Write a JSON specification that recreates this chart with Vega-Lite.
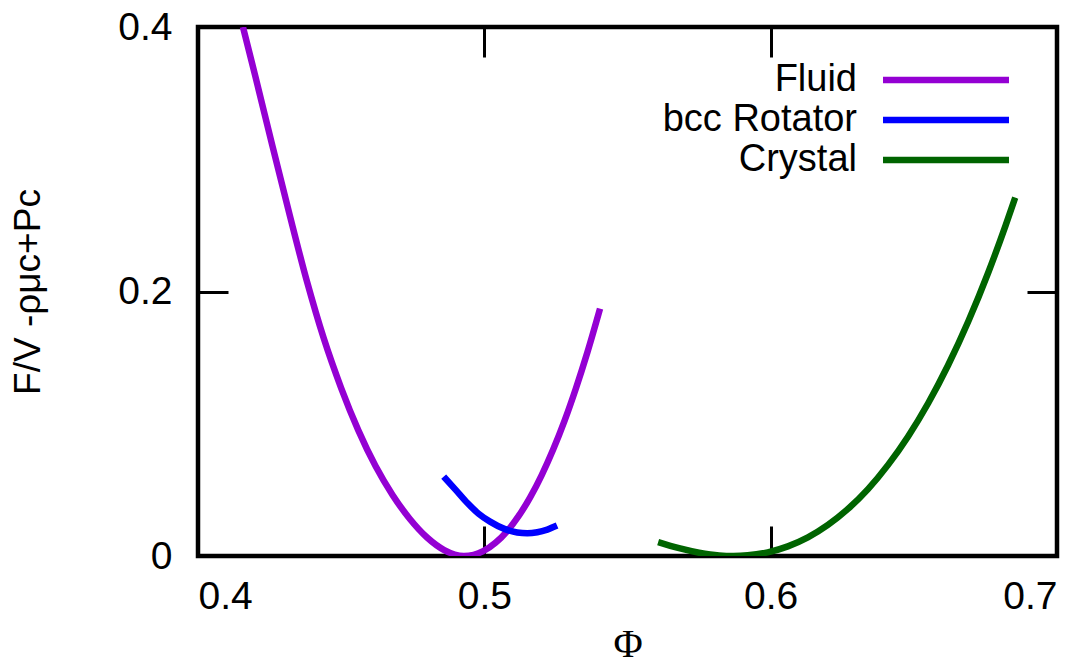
{
  "$schema": "https://vega.github.io/schema/vega-lite/v6.json",
  "width": 859,
  "height": 529,
  "autosize": {"type": "none"},
  "padding": {"left": 198, "top": 27, "right": 34, "bottom": 112},
  "background": "white",
  "config": {
    "view": {"stroke": "black", "strokeWidth": 4.5},
    "font": "Liberation Sans",
    "axis": {
      "domain": false,
      "grid": false,
      "tickSize": -30,
      "tickWidth": 3,
      "tickColor": "black",
      "labelFont": "Liberation Sans",
      "labelFontSize": 39,
      "labelColor": "black",
      "titleFont": "Liberation Sans",
      "titleFontSize": 37,
      "titleFontWeight": "normal",
      "titleColor": "black"
    }
  },
  "data": {
    "values": [
      {"phase": "Fluid", "phi": 0.4157, "f": 0.400},
      {"phase": "Fluid", "phi": 0.4200, "f": 0.363},
      {"phase": "Fluid", "phi": 0.4260, "f": 0.310},
      {"phase": "Fluid", "phi": 0.4320, "f": 0.258},
      {"phase": "Fluid", "phi": 0.4380, "f": 0.208},
      {"phase": "Fluid", "phi": 0.4440, "f": 0.164},
      {"phase": "Fluid", "phi": 0.4500, "f": 0.127},
      {"phase": "Fluid", "phi": 0.4560, "f": 0.095},
      {"phase": "Fluid", "phi": 0.4620, "f": 0.068},
      {"phase": "Fluid", "phi": 0.4680, "f": 0.046},
      {"phase": "Fluid", "phi": 0.4740, "f": 0.028},
      {"phase": "Fluid", "phi": 0.4800, "f": 0.0140},
      {"phase": "Fluid", "phi": 0.4860, "f": 0.0045},
      {"phase": "Fluid", "phi": 0.4929, "f": 0.000},
      {"phase": "Fluid", "phi": 0.4996, "f": 0.0037},
      {"phase": "Fluid", "phi": 0.5040, "f": 0.0102},
      {"phase": "Fluid", "phi": 0.5080, "f": 0.0189},
      {"phase": "Fluid", "phi": 0.5120, "f": 0.0303},
      {"phase": "Fluid", "phi": 0.5160, "f": 0.0443},
      {"phase": "Fluid", "phi": 0.5200, "f": 0.0610},
      {"phase": "Fluid", "phi": 0.5240, "f": 0.0803},
      {"phase": "Fluid", "phi": 0.5280, "f": 0.1022},
      {"phase": "Fluid", "phi": 0.5320, "f": 0.1269},
      {"phase": "Fluid", "phi": 0.5360, "f": 0.1541},
      {"phase": "Fluid", "phi": 0.5404, "f": 0.1870},
      {"phase": "bcc Rotator", "phi": 0.4858, "f": 0.060},
      {"phase": "bcc Rotator", "phi": 0.4900, "f": 0.050},
      {"phase": "bcc Rotator", "phi": 0.4941, "f": 0.040},
      {"phase": "bcc Rotator", "phi": 0.4980, "f": 0.032},
      {"phase": "bcc Rotator", "phi": 0.5020, "f": 0.026},
      {"phase": "bcc Rotator", "phi": 0.5070, "f": 0.0205},
      {"phase": "bcc Rotator", "phi": 0.5115, "f": 0.0178},
      {"phase": "bcc Rotator", "phi": 0.5150, "f": 0.0172},
      {"phase": "bcc Rotator", "phi": 0.5185, "f": 0.0180},
      {"phase": "bcc Rotator", "phi": 0.5220, "f": 0.0200},
      {"phase": "bcc Rotator", "phi": 0.5254, "f": 0.0230},
      {"phase": "Crystal", "phi": 0.5607, "f": 0.0105},
      {"phase": "Crystal", "phi": 0.5680, "f": 0.0059},
      {"phase": "Crystal", "phi": 0.5750, "f": 0.0025},
      {"phase": "Crystal", "phi": 0.5820, "f": 0.0004},
      {"phase": "Crystal", "phi": 0.5870, "f": 0.0000},
      {"phase": "Crystal", "phi": 0.5920, "f": 0.0005},
      {"phase": "Crystal", "phi": 0.5990, "f": 0.0028},
      {"phase": "Crystal", "phi": 0.6060, "f": 0.0073},
      {"phase": "Crystal", "phi": 0.6130, "f": 0.0141},
      {"phase": "Crystal", "phi": 0.6200, "f": 0.0235},
      {"phase": "Crystal", "phi": 0.6270, "f": 0.0356},
      {"phase": "Crystal", "phi": 0.6340, "f": 0.0506},
      {"phase": "Crystal", "phi": 0.6410, "f": 0.0689},
      {"phase": "Crystal", "phi": 0.6480, "f": 0.0904},
      {"phase": "Crystal", "phi": 0.6550, "f": 0.1155},
      {"phase": "Crystal", "phi": 0.6620, "f": 0.1444},
      {"phase": "Crystal", "phi": 0.6690, "f": 0.1773},
      {"phase": "Crystal", "phi": 0.6760, "f": 0.2144},
      {"phase": "Crystal", "phi": 0.6820, "f": 0.2496},
      {"phase": "Crystal", "phi": 0.6854, "f": 0.2710}
    ]
  },
  "layer": [
    {
      "mark": {"type": "line", "strokeWidth": 6.5, "interpolate": "monotone", "clip": true},
      "encoding": {
        "x": {
          "field": "phi", "type": "quantitative",
          "scale": {"domain": [0.4, 0.7], "nice": false, "zero": false},
          "axis": {"orient": "bottom", "values": [0.4, 0.5, 0.6, 0.7], "format": "~g", "labelPadding": 51, "title": "Φ", "titleFont": "Liberation Serif", "titleFontSize": 40, "titlePadding": 8}
        },
        "y": {
          "field": "f", "type": "quantitative",
          "scale": {"domain": [0, 0.4], "nice": false},
          "axis": {"orient": "left", "values": [0, 0.2, 0.4], "format": "~g", "labelPadding": 56, "title": "F/V -ρμc+Pc", "titlePadding": 70}
        },
        "color": {
          "field": "phase", "type": "nominal",
          "scale": {"domain": ["Fluid", "bcc Rotator", "Crystal"], "range": ["#9400D3", "#0000FF", "#006400"]},
          "legend": {
            "title": null,
            "orient": "none",
            "legendX": 729,
            "legendY": 34,
            "padding": 0,
            "symbolType": "M-4,0H4",
            "symbolSize": 992,
            "symbolStrokeWidth": 6.5,
            "labelAlign": "right",
            "labelOffset": -108,
            "labelFontSize": 38,
            "labelFont": "Liberation Sans",
            "labelColor": "black",
            "rowPadding": 2,
            "labelLimit": 400
          }
        }
      }
    },
    {
      "mark": {"type": "line", "strokeOpacity": 0, "strokeWidth": 0},
      "encoding": {
        "x": {
          "field": "phi", "type": "quantitative",
          "axis": {"orient": "top", "values": [0.4, 0.5, 0.6, 0.7], "labels": false, "title": null}
        },
        "y": {
          "field": "f", "type": "quantitative",
          "axis": {"orient": "right", "values": [0, 0.2, 0.4], "labels": false, "title": null}
        },
        "detail": {"field": "phase"}
      }
    }
  ],
  "resolve": {"axis": {"x": "independent", "y": "independent"}}
}
